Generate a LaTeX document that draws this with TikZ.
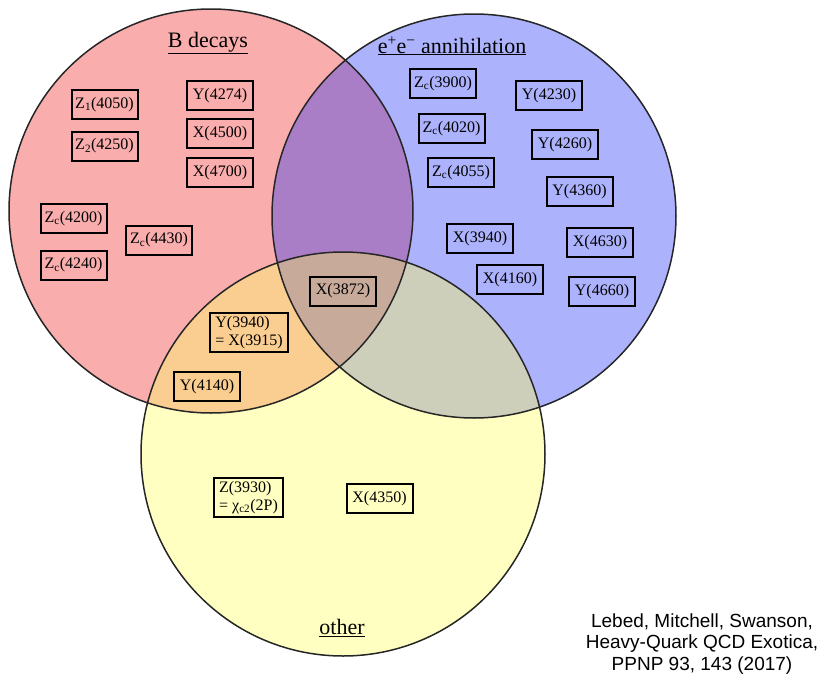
\documentclass[tikz,border=0pt]{standalone}
\usepackage{fontspec}
\setmainfont{Liberation Serif}
\newfontfamily\citefont{Liberation Sans}
\definecolor{cred}{RGB}{249,173,173}
\definecolor{cblue}{RGB}{172,178,252}
\definecolor{cyel}{RGB}{255,255,193}
\definecolor{cpurple}{RGB}{169,126,199}
\definecolor{corange}{RGB}{250,205,145}
\definecolor{cbrown}{RGB}{200,170,155}
\definecolor{cgreen}{RGB}{205,207,187}
\tikzset{
  pbox/.style={draw=black, line width=2pt, font=\fontsize{16}{18}\selectfont,
    inner xsep=3pt, inner ysep=3pt, minimum height=29pt, minimum width=66pt, align=left},
  setlab/.style={font=\fontsize{22}{24}\selectfont, inner sep=0pt},
  ring/.style={draw=black!85, line width=1.5pt},
}
\newcommand{\rr}{202pt}
\begin{document}
\begin{tikzpicture}[x=1pt,y=-1pt]
\useasboundingbox (0,0) rectangle (823,683);
\coordinate (cR) at (211,211);
\coordinate (cB) at (474,216);
\coordinate (cY) at (343,454);
% base fills
\fill[cred] (cR) circle[radius=\rr];
\fill[cblue] (cB) circle[radius=\rr];
\fill[cyel] (cY) circle[radius=\rr];
% pairwise overlaps
\begin{scope}\clip (cR) circle[radius=\rr]; \fill[cpurple] (cB) circle[radius=\rr];\end{scope}
\begin{scope}\clip (cR) circle[radius=\rr]; \fill[corange] (cY) circle[radius=\rr];\end{scope}
\begin{scope}\clip (cB) circle[radius=\rr]; \fill[cgreen] (cY) circle[radius=\rr];\end{scope}
\begin{scope}\clip (cR) circle[radius=\rr]; \clip (cB) circle[radius=\rr]; \fill[cbrown] (cY) circle[radius=\rr];\end{scope}
% outlines
\draw[ring] (cR) circle[radius=\rr];
\draw[ring] (cB) circle[radius=\rr];
\draw[ring] (cY) circle[radius=\rr];
% set labels
\node[setlab] (lB) at (208,43) {\underline{B decays}};
\node[setlab] (lE) at (452,46) {\underline{e\textsuperscript{+}e\textsuperscript{−} annihilation}};
\node[setlab] (lO) at (342,628) {\underline{other}};
% B decays
\node[pbox] (z1) at (104.5,104.5) {Z\textsubscript{1}(4050)};
\node[pbox] (z2) at (104.5,146) {Z\textsubscript{2}(4250)};
\node[pbox] (y4274) at (220,95.5) {Y(4274)};
\node[pbox] (x4500) at (220,133.5) {X(4500)};
\node[pbox] (x4700) at (220,172.5) {X(4700)};
\node[pbox] (zc4200) at (73.5,218.5) {Z\textsubscript{c}(4200)};
\node[pbox] (zc4430) at (159,240) {Z\textsubscript{c}(4430)};
\node[pbox] (zc4240) at (73.5,265) {Z\textsubscript{c}(4240)};
% e+e- annihilation
\node[pbox] (zc3900) at (443,83.5) {Z\textsubscript{c}(3900)};
\node[pbox] (y4230) at (549,95.5) {Y(4230)};
\node[pbox] (zc4020) at (451.5,128.5) {Z\textsubscript{c}(4020)};
\node[pbox] (y4260) at (565,144.5) {Y(4260)};
\node[pbox] (zc4055) at (461,172.5) {Z\textsubscript{c}(4055)};
\node[pbox] (y4360) at (579.5,191.5) {Y(4360)};
\node[pbox] (x3940) at (480,238.5) {X(3940)};
\node[pbox] (x4630) at (600,242.5) {X(4630)};
\node[pbox] (x4160) at (510,279.5) {X(4160)};
\node[pbox] (y4660) at (602,291.5) {Y(4660)};
% overlaps
\node[pbox] (x3872) at (343,291) {X(3872)};
\node[pbox, minimum width=78pt] (y3940) at (249,332.5) {Y(3940)\\= X(3915)};
\node[pbox] (y4140) at (207,386.5) {Y(4140)};
% other
\node[pbox, minimum width=69pt] (z3930) at (248.5,497.5) {Z(3930)\\= χ\textsubscript{c2}(2P)};
\node[pbox] (x4350) at (379.5,498.5) {X(4350)};
% citation
\node[font=\citefont\fontsize{19}{21.5}\selectfont, align=center, inner sep=0pt] (cite) at (702,644)
  {Lebed, Mitchell, Swanson,\\Heavy-Quark QCD Exotica,\\PPNP 93, 143 (2017)};
\end{tikzpicture}
\end{document}
